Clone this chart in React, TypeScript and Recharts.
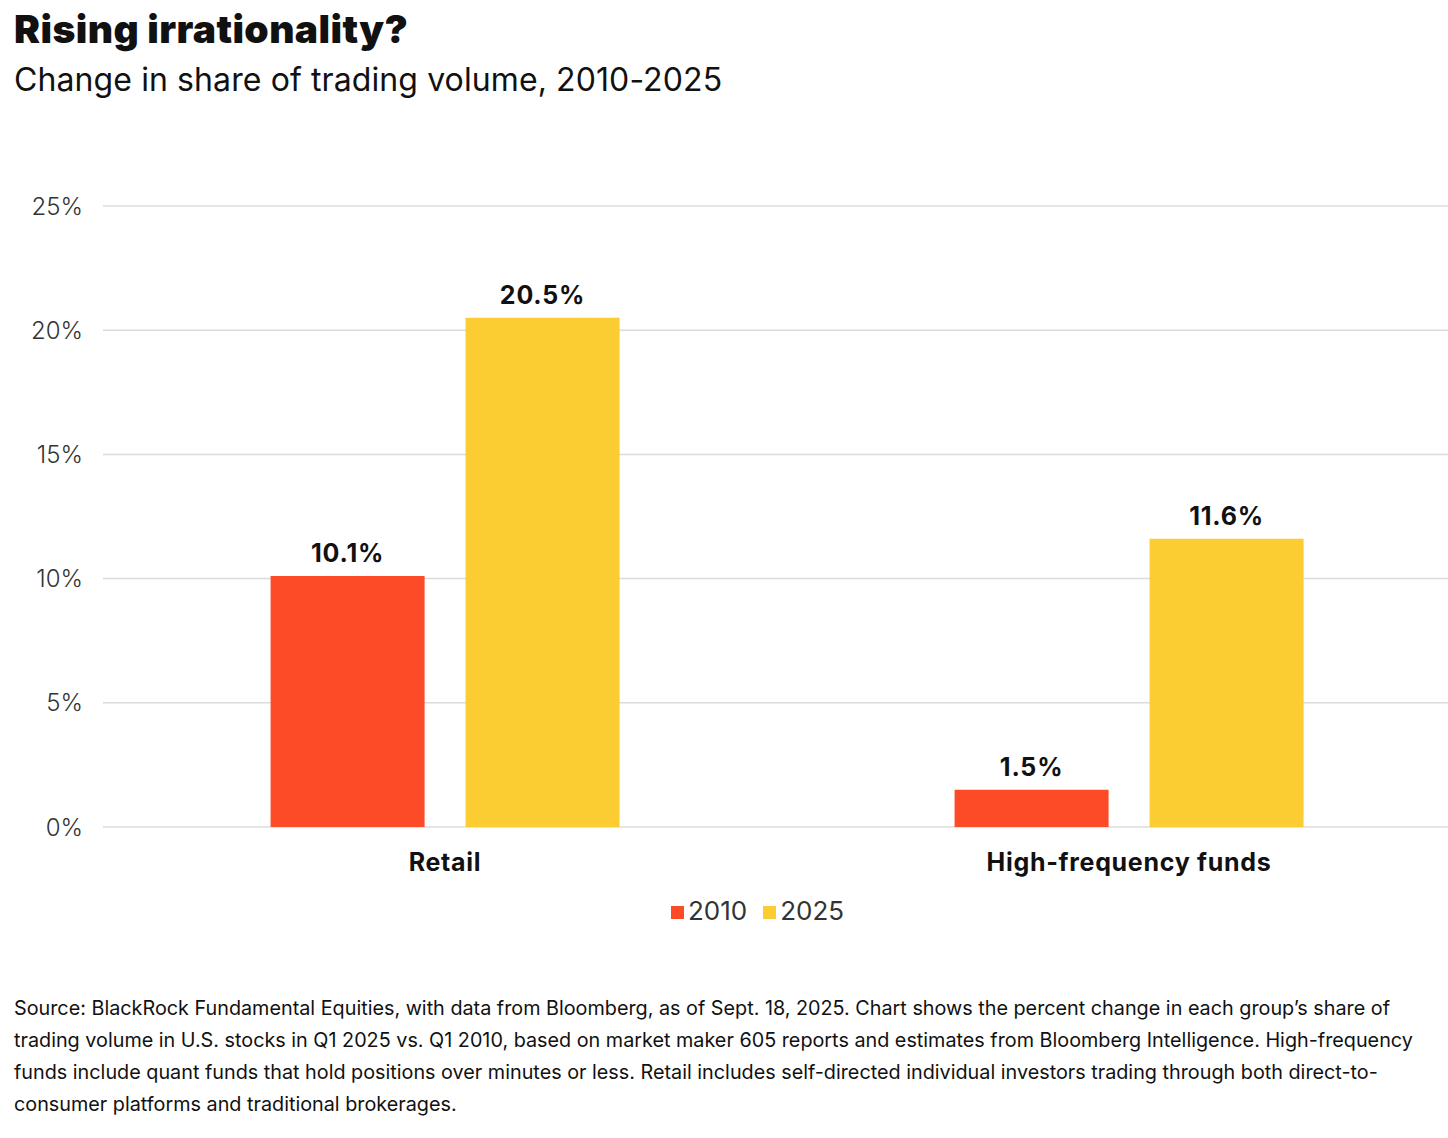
import React from "react";
import {
  BarChart,
  Bar,
  XAxis,
  YAxis,
  CartesianGrid,
  Legend,
  LabelList,
} from "recharts";

const categories = ["Retail", "High-frequency funds"];
const values2010 = [10.1, 1.5];
const values2025 = [20.5, 11.6];
const yTicks = [0, 5, 10, 15, 20, 25];

const RED = "#fc4b26";
const YELLOW = "#fccd32";
const FONT = "Inter, 'Noto Sans', sans-serif";

const data = categories.map((name, i) => ({
  name,
  y2010: values2010[i],
  y2025: values2025[i],
}));

const sourceLines = [
  "Source: BlackRock Fundamental Equities, with data from Bloomberg, as of Sept. 18, 2025. Chart shows the percent change in each group\u2019s share of",
  "trading volume in U.S. stocks in Q1 2025 vs. Q1 2010, based on market maker 605 reports and estimates from Bloomberg Intelligence. High-frequency",
  "funds include quant funds that hold positions over minutes or less. Retail includes self-directed individual investors trading through both direct-to-",
  "consumer platforms and traditional brokerages.",
];

const pct = (v: number) => `${v}%`;

const labelStyle = {
  fontSize: 25,
  fontWeight: 700,
  fill: "#111",
  fontFamily: FONT,
  letterSpacing: 0.8,
};

const App: React.FC = () => {
  return (
    <div
      style={{
        position: "absolute",
        left: 0,
        top: 0,
        width: 1448,
        height: 1130,
        overflow: "hidden",
        background: "#fff",
        fontFamily: FONT,
        color: "#111",
      }}
    >
      <div
        style={{
          position: "absolute",
          left: 14,
          top: 5,
          fontSize: 39,
          fontWeight: 900,
          letterSpacing: 0.4,
          whiteSpace: "nowrap",
        }}
      >
        Rising irrationality?
      </div>
      <div
        style={{
          position: "absolute",
          left: 14,
          top: 60,
          fontSize: 32,
          fontWeight: 400,
          letterSpacing: 0.1,
          whiteSpace: "nowrap",
        }}
      >
        Change in share of trading volume, 2010-2025
      </div>

      <div style={{ position: "absolute", left: 0, top: 0 }}>
        <BarChart
          width={1471}
          height={941}
          data={data}
          margin={{ top: 206, right: 0, bottom: 0, left: 0 }}
          barCategoryGap="24.5%"
          barGap={41}
        >
          <CartesianGrid vertical={false} stroke="#dcdcdc" strokeWidth={1.5} />
          <XAxis
            dataKey="name"
            axisLine={false}
            tickLine={false}
            tickSize={0}
            tickMargin={26}
            height={60}
            tick={{ ...labelStyle, letterSpacing: 0.7 }}
          />
          <YAxis
            domain={[0, 25]}
            ticks={yTicks}
            tickFormatter={pct}
            axisLine={false}
            tickLine={false}
            tickSize={0}
            tickMargin={20}
            width={103}
            tick={{ fontSize: 24, fontWeight: 300, fill: "#333", fontFamily: FONT }}
          />
          <Legend
            verticalAlign="bottom"
            height={46}
            iconType="square"
            iconSize={13}
            wrapperStyle={{ fontSize: 26, fontFamily: FONT, paddingLeft: 30, paddingTop: 8 }}
            formatter={(value) => (
              <span style={{ color: "#333", fontWeight: 400, marginRight: 6 }}>{value}</span>
            )}
          />
          <Bar dataKey="y2010" name="2010" fill={RED} isAnimationActive={false}>
            <LabelList
              dataKey="y2010"
              position="top"
              offset={14}
              formatter={pct}
              style={labelStyle}
            />
          </Bar>
          <Bar dataKey="y2025" name="2025" fill={YELLOW} isAnimationActive={false}>
            <LabelList
              dataKey="y2025"
              position="top"
              offset={14}
              formatter={pct}
              style={labelStyle}
            />
          </Bar>
        </BarChart>
      </div>

      <div
        style={{
          position: "absolute",
          left: 14,
          top: 992,
          fontSize: 19.8,
          lineHeight: "32px",
          color: "#111",
          whiteSpace: "nowrap",
        }}
      >
        {sourceLines.map((line, i) => (
          <div key={i}>{line}</div>
        ))}
      </div>
    </div>
  );
};

export default App;
